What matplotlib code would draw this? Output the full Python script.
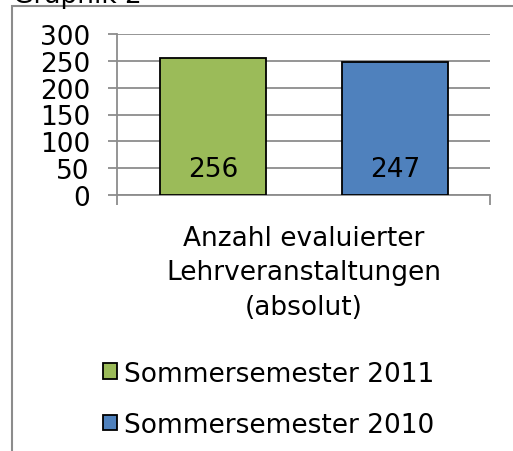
import matplotlib.pyplot as plt
from matplotlib.patches import Rectangle

# data
category = ["Anzahl evaluierter\nLehrveranstaltungen\n(absolut)"]
series_names = ["Sommersemester 2011", "Sommersemester 2010"]
series_values = [256, 247]
series_colors = ["#9BBB59", "#4F81BD"]
y_ticks = [0, 50, 100, 150, 200, 250, 300]

W, H = 513, 452
fig = plt.figure(figsize=(W / 100, H / 100), dpi=100)
fig.patch.set_facecolor("white")

grid_col = "#8c8c8c"
fs = 19

# outer frame (partly cut off by the picture edges)
fig.patches.append(Rectangle((12 / W, -0.1), 1.2, 1 - 7 / H + 0.1,
                             transform=fig.transFigure, fill=False,
                             edgecolor=grid_col, linewidth=1.5, clip_on=False))
fig.text(13 / W, 1 - 3 / H, "Graphik 2", fontsize=fs, va="baseline", ha="left")

ax = fig.add_axes([117 / W, 1 - 196 / H, (490 - 117) / W, (196 - 35) / H])

# bars: one category, two series
centers = [0.257, 0.745]
width = 0.284
bars = []
for i, (name, val, col) in enumerate(zip(series_names, series_values, series_colors)):
  b = ax.bar(centers[i], val, width, color=col, edgecolor="black", linewidth=1.3,
             label=name, zorder=3)
  bars.append(b)
  ax.annotate(str(val), (centers[i], 0), xytext=(0, 19), textcoords="offset points",
              ha="center", va="center", fontsize=fs, zorder=4)

# axes layout
ax.set_xlim(0, 1)
ax.set_ylim(0, 300)
ax.set_yticks(y_ticks)
ax.set_yticklabels([str(t) for t in y_ticks], fontsize=fs)
ax.tick_params(axis="y", length=6.5, width=1.3, color=grid_col, pad=13)
ax.set_xticks([0, 1])
ax.set_xticklabels(["", ""])
ax.tick_params(axis="x", length=7, width=1.3, color=grid_col)
ax.yaxis.grid(True, color=grid_col, linewidth=1.3, zorder=0)
ax.set_axisbelow(True)
for s in ["top", "right"]:
  ax.spines[s].set_visible(False)
for s in ["left", "bottom"]:
  ax.spines[s].set_color(grid_col)
  ax.spines[s].set_linewidth(1.3)

# category label
fig.text(304 / W, 1 - 226 / H, category[0], ha="center", va="top",
         fontsize=fs, linespacing=1.42)

# legend
fig.legend(handles=[b[0] for b in bars], labels=series_names,
           loc="upper left", bbox_to_anchor=(79 / W, 1 - 338 / H),
           frameon=False, fontsize=fs, handlelength=0.55, handleheight=0.55,
           handletextpad=0.25, labelspacing=0.95)

plt.savefig("out.png", dpi=100)
